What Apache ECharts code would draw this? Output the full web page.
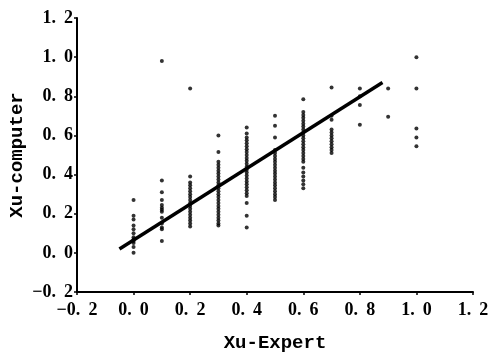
<!DOCTYPE html>
<html>
<head>
<meta charset="utf-8">
<script src="https://cdn.jsdelivr.net/npm/echarts@6/dist/echarts.min.js"></script>
<style>
  html, body { margin: 0; padding: 0; background: #fff; }
  #chart { width: 489px; height: 352px; }
</style>
</head>
<body>
<div id="chart"></div>
<script>
// expert scores (x) and the computer scores read at each of them (y)
const expertLevels = [0.0, 0.1, 0.2, 0.3, 0.4, 0.5, 0.6, 0.7, 0.8, 0.9, 1.0];
const col00 = [0.27, 0.19, 0.17, 0.14, 0.12, 0.10, 0.08, 0.07, 0.06, 0.05, 0.03, 0.0];
const col01 = [0.98, 0.37, 0.31, 0.27, 0.245, 0.23, 0.22, 0.21, 0.18, 0.15, 0.13, 0.12, 0.06];
const col02 = [0.84, 0.39, 0.36, 0.345, 0.33, 0.315, 0.30, 0.285, 0.27, 0.255, 0.24, 0.225,
  0.21, 0.195, 0.18, 0.165, 0.15, 0.135];
const col03 = [0.60, 0.515, 0.465, 0.45, 0.435, 0.42, 0.405, 0.39, 0.375, 0.36, 0.345, 0.33,
  0.315, 0.30, 0.285, 0.27, 0.255, 0.24, 0.225, 0.21, 0.195, 0.18, 0.165, 0.15, 0.14];
const col04 = [0.64, 0.61, 0.59, 0.575, 0.56, 0.545, 0.53, 0.515, 0.50, 0.485, 0.47, 0.455,
  0.44, 0.425, 0.41, 0.395, 0.38, 0.365, 0.35, 0.335, 0.32, 0.305, 0.29, 0.255, 0.19, 0.13];
const col05 = [0.70, 0.65, 0.59, 0.525, 0.51, 0.495, 0.48, 0.465, 0.45, 0.435, 0.42, 0.405,
  0.39, 0.375, 0.36, 0.345, 0.33, 0.315, 0.30, 0.285, 0.27];
const col06 = [0.785, 0.72, 0.705, 0.69, 0.675, 0.66, 0.645, 0.63, 0.615, 0.60, 0.585, 0.57,
  0.555, 0.54, 0.525, 0.51, 0.495, 0.48, 0.465, 0.435, 0.41, 0.39, 0.37, 0.35, 0.33];
const col07 = [0.845, 0.70, 0.68, 0.63, 0.615, 0.60, 0.585, 0.57, 0.555, 0.54, 0.525, 0.51];
const col08 = [0.84, 0.80, 0.755, 0.655];
const col09 = [0.84, 0.695];
const col10 = [1.0, 0.84, 0.635, 0.59, 0.545];
const columns = [col00, col01, col02, col03, col04, col05, col06, col07, col08, col09, col10];

// fitted line end points
const fitX = [-0.05, 0.88];
const fitY = [0.02, 0.87];

const axisTicks = [-0.2, 0.0, 0.2, 0.4, 0.6, 0.8, 1.0, 1.2];

const points = [];
columns.forEach((col, i) => {
  col.forEach(v => points.push([expertLevels[i], v]));
});

const tickFont = "'Liberation Serif', serif";
const nameFont = "'Liberation Mono', monospace";
// "1. 2" style with the wide gap of the original typesetting
const fmt = v => (v < 0 ? '\u2212' : '') + Math.abs(v).toFixed(1).replace('.', '. \u2009');

const axisCommon = {
  type: 'value',
  min: axisTicks[0],
  max: axisTicks[axisTicks.length - 1],
  interval: 0.2,
  axisLine: { show: true, onZero: false, lineStyle: { color: '#000', width: 2 } },
  axisTick: { show: true, length: 3, lineStyle: { color: '#000', width: 1.5 } },
  splitLine: { show: false },
  nameMoveOverlap: false,
  nameTextStyle: { color: '#000', fontFamily: nameFont, fontSize: 19, fontWeight: 'bold' }
};

const chart = echarts.init(document.getElementById('chart'), null, { renderer: 'canvas' });
chart.setOption({
  animation: false,
  backgroundColor: '#fff',
  grid: { left: 77, right: 16, top: 18, bottom: 60, outerBoundsMode: 'none', containLabel: false },
  xAxis: Object.assign({}, axisCommon, {
    name: 'Xu-Expert',
    nameLocation: 'middle',
    nameGap: 42,
    axisLabel: { color: '#000', fontFamily: tickFont, fontSize: 18, fontWeight: 'bold', margin: 9, formatter: fmt }
  }),
  yAxis: Object.assign({}, axisCommon, {
    name: 'Xu-computer',
    nameLocation: 'middle',
    nameGap: 50,
    axisLabel: { color: '#000', fontFamily: tickFont, fontSize: 18, fontWeight: 'bold', margin: 4, formatter: fmt }
  }),
  series: [
    {
      type: 'scatter',
      data: points,
      symbol: 'circle',
      symbolSize: 4,
      itemStyle: { color: '#000' }
    },
    {
      type: 'line',
      data: fitX.map((x, i) => [x, fitY[i]]),
      symbol: 'none',
      lineStyle: { color: '#000', width: 3.5 }
    }
  ]
});
</script>
</body>
</html>
